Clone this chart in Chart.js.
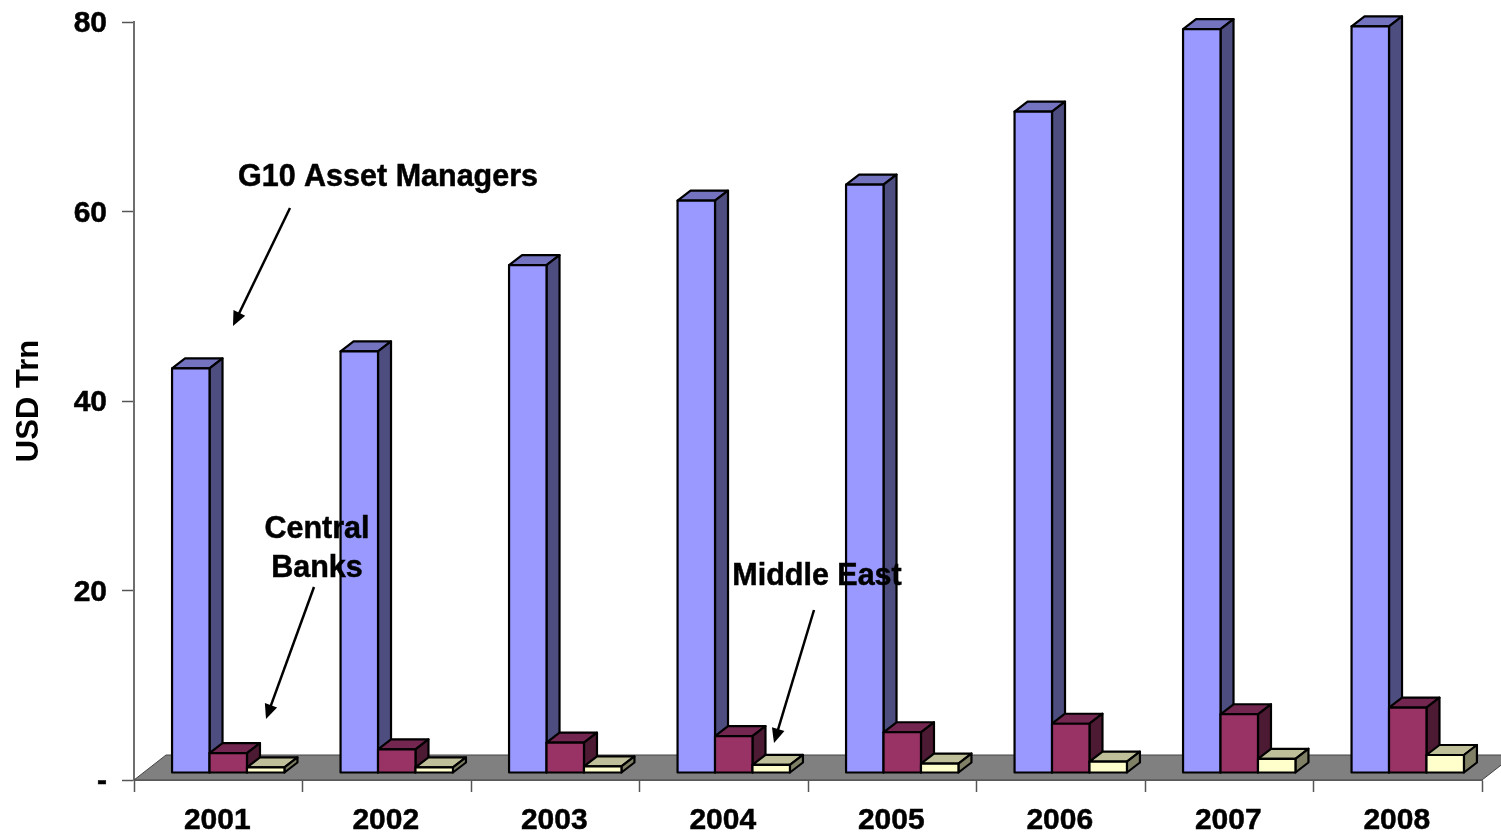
<!DOCTYPE html>
<html>
<head>
<meta charset="utf-8">
<title>USD Trn</title>
<script src="https://cdn.jsdelivr.net/npm/chart.js@4"></script>
<style>
    html, body { margin: 0; padding: 0; background: #fff; overflow: hidden; }
    canvas { display: block; }
</style>
</head>
<body>
<canvas id="myChart" width="1501" height="835"></canvas>
<script>
const years = ['2001', '2002', '2003', '2004', '2005', '2006', '2007', '2008'];
const g10Managers = [42.7, 44.5, 53.6, 60.4, 62.1, 69.8, 78.5, 78.8];
const centralBanks = [2.1, 2.5, 3.2, 3.9, 4.3, 5.2, 6.2, 6.9];
const middleEast = [0.6, 0.6, 0.7, 0.85, 1.0, 1.2, 1.5, 1.9];
const yTicks = [0, 20, 40, 60, 80];

const FONT = '"Liberation Sans", Arial, sans-serif';

// colours of the three faces: front, top, side
const faces = {
    g10: ['#9999FF', '#7373BF', '#4D4D80'],
    central: ['#993366', '#732650', '#4D1A33'],
    middle: ['#FFFFCC', '#BFBF99', '#808066']
};

// the notes that sit on top of the chart, in pixels of the canvas
const notes = [
    { lines: ['G10 Asset Managers'], x: 388, y: 178, arrow: [290, 208, 233, 326] },
    { lines: ['Central', 'Banks'], x: 317, y: 530, arrow: [314, 587, 266, 719] },
    { lines: ['Middle East'], x: 817, y: 577, arrow: [814, 610, 774, 743] }
];

const barDepth = { x: 13, y: 10 };
const barShift = { x: 10, y: -7 };
const floorDepth = { x: 32, y: 25 };

function polygon(ctx, pts, fill) {
    ctx.beginPath();
    ctx.moveTo(pts[0][0], pts[0][1]);
    pts.slice(1).forEach(p => ctx.lineTo(p[0], p[1]));
    ctx.closePath();
    ctx.fillStyle = fill;
    ctx.fill();
    ctx.stroke();
}

const fake3d = {
    id: 'fake3d',
    beforeDatasetsDraw(chart) {
        const { ctx, chartArea: a } = chart;

        // floor
        ctx.save();
        ctx.strokeStyle = '#444';
        ctx.lineWidth = 1;
        polygon(ctx, [
            [a.left, a.bottom],
            [a.left + floorDepth.x, a.bottom - floorDepth.y],
            [a.right + floorDepth.x, a.bottom - floorDepth.y],
            [a.right, a.bottom]
        ], '#808080');
        ctx.restore();

        // bars, left to right so every bar covers the side of the one before
        ctx.save();
        ctx.translate(barShift.x, barShift.y);
        ctx.lineWidth = 2.2;
        ctx.lineJoin = 'round';
        ctx.strokeStyle = '#000';
        const sets = chart.data.datasets.map((d, i) => chart.getDatasetMeta(i).data);
        years.forEach((year, i) => {
            sets.forEach((bars, k) => {
                const el = bars[i];
                const c = chart.data.datasets[k].faceColors;
                const l = el.x - el.width / 2;
                const r = el.x + el.width / 2;
                polygon(ctx, [
                    [l, el.y], [l + barDepth.x, el.y - barDepth.y],
                    [r + barDepth.x, el.y - barDepth.y], [r, el.y]
                ], c[1]);
                polygon(ctx, [
                    [r, el.y], [r + barDepth.x, el.y - barDepth.y],
                    [r + barDepth.x, el.base - barDepth.y], [r, el.base]
                ], c[2]);
                el.draw(ctx);
                // outline sits on the edge of the face, not inside it
                ctx.strokeRect(l, el.y, el.width, el.base - el.y);
            });
        });
        ctx.restore();
        return false; // already drawn above, in the right order
    },
    afterDraw(chart) {
        const ctx = chart.ctx;
        ctx.save();
        ctx.fillStyle = '#000';
        ctx.strokeStyle = '#000';
        ctx.font = 'bold 30.5px ' + FONT;
        ctx.textAlign = 'center';
        ctx.textBaseline = 'middle';
        notes.forEach(n => {
            ctx.lineWidth = 0.5;
            n.lines.forEach((t, i) => {
                ctx.fillText(t, n.x, n.y + i * 39);
                ctx.strokeText(t, n.x, n.y + i * 39);
            });

            const [x0, y0, x1, y1] = n.arrow;
            const ang = Math.atan2(y1 - y0, x1 - x0);
            ctx.lineWidth = 2.5;
            ctx.beginPath();
            ctx.moveTo(x0, y0);
            ctx.lineTo(x1 - 10 * Math.cos(ang), y1 - 10 * Math.sin(ang));
            ctx.stroke();
            ctx.beginPath();
            ctx.moveTo(x1, y1);
            ctx.lineTo(x1 - 16 * Math.cos(ang - 0.42), y1 - 16 * Math.sin(ang - 0.42));
            ctx.lineTo(x1 - 16 * Math.cos(ang + 0.42), y1 - 16 * Math.sin(ang + 0.42));
            ctx.closePath();
            ctx.fill();
        });
        ctx.restore();
    }
};

new Chart(document.getElementById('myChart').getContext('2d'), {
    type: 'bar',
    data: {
        labels: years,
        datasets: [
            { label: 'G10 Asset Managers', data: g10Managers, backgroundColor: faces.g10[0], faceColors: faces.g10 },
            { label: 'Central Banks', data: centralBanks, backgroundColor: faces.central[0], faceColors: faces.central },
            { label: 'Middle East', data: middleEast, backgroundColor: faces.middle[0], faceColors: faces.middle }
        ]
    },
    options: {
        responsive: false,
        animation: false,
        layout: { padding: { top: 22, right: 19, left: 0, bottom: 0 } },
        datasets: {
            bar: {
                categoryPercentage: 0.667,
                barPercentage: 1,
                borderWidth: 0
            }
        },
        scales: {
            x: {
                afterFit: scale => { scale.height = 55; },
                border: { color: '#6e6e6e', width: 2 },
                grid: { drawOnChartArea: false, tickLength: 12, tickColor: '#555', tickWidth: 1.5 },
                ticks: {
                    color: '#000',
                    padding: 11,
                    maxRotation: 0,
                    labelOffset: -1,
                    textStrokeColor: '#000',
                    textStrokeWidth: 0.5,
                    font: { family: FONT, size: 30, weight: 'bold' }
                }
            },
            y: {
                min: 0,
                max: 80,
                afterFit: scale => {
                    scale.width = 134;
                    scale.paddingTop = 0; // layout padding alone places the top of the axis
                },
                afterBuildTicks: scale => { scale.ticks = yTicks.map(v => ({ value: v })); },
                border: { color: '#6e6e6e', width: 2 },
                grid: { drawOnChartArea: false, tickLength: 12, tickColor: '#555', tickWidth: 1.5 },
                title: {
                    display: true,
                    text: 'USD Trn',
                    color: '#000',
                    padding: { top: 11, bottom: 0 },
                    font: { family: FONT, size: 31, weight: 'bold' }
                },
                ticks: {
                    color: '#000',
                    padding: 15,
                    labelOffset: 2,
                    callback: v => (v === 0 ? '-' : v),
                    textStrokeColor: '#000',
                    textStrokeWidth: 0.5,
                    font: { family: FONT, size: 30, weight: 'bold' }
                }
            }
        },
        plugins: {
            legend: { display: false },
            tooltip: { enabled: false }
        }
    },
    plugins: [fake3d]
});
</script>
</body>
</html>
